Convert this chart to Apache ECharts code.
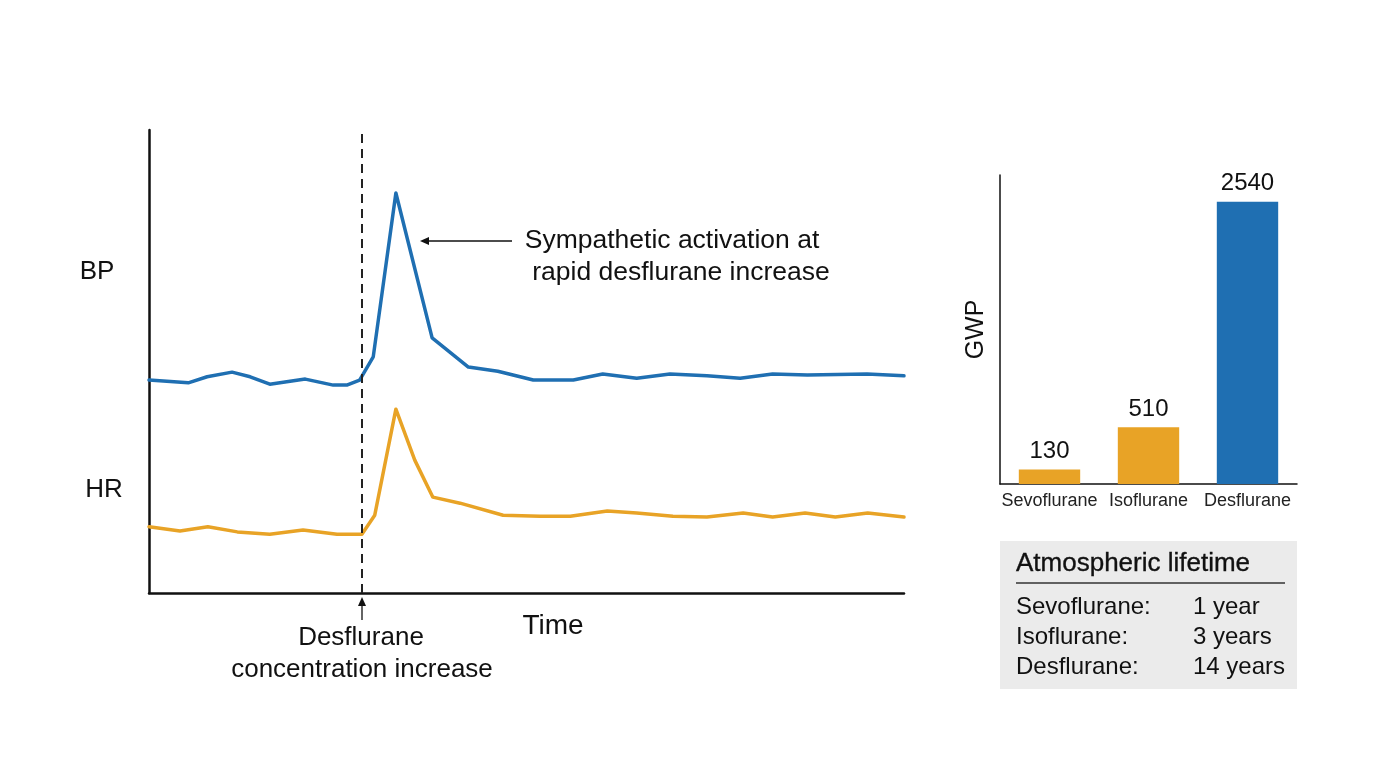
<!DOCTYPE html>
<html>
<head>
<meta charset="utf-8">
<script src="https://cdn.jsdelivr.net/npm/echarts@6/dist/echarts.min.js"></script>
<style>
  html, body { margin: 0; padding: 0; background: #fff; }
  #main { width: 1376px; height: 768px; }
</style>
</head>
<body>
<div id="main"></div>
<script>
// time axis is arbitrary units 0..100, signal level arbitrary 0..100
var bpTime = [0, 5.2, 7.7, 11, 13.4, 16, 20.7, 24.4, 26.2, 27.9, 29.7, 32.7, 37.5, 42.3, 46.2, 50.9, 56.2, 60.1, 64.6, 69, 73.9, 78.3, 82.6, 87.2, 95.1, 100];
var bpValues = [46, 45.4, 46.7, 47.7, 46.7, 45.1, 46.2, 44.9, 44.9, 46, 51, 86.4, 55.1, 48.8, 47.9, 46, 46, 47.3, 46.4, 47.3, 46.9, 46.4, 47.3, 47.1, 47.3, 46.9];
var hrTime = [0, 4.1, 7.8, 11.7, 16, 20.4, 24.9, 28.2, 29.9, 32.7, 35.2, 37.6, 41.2, 46.9, 51.8, 55.8, 60.7, 64.6, 69.4, 73.9, 78.7, 82.6, 86.9, 90.9, 95.2, 100];
var hrValues = [14.3, 13.4, 14.3, 13.2, 12.7, 13.6, 12.7, 12.7, 16.8, 39.7, 28.7, 20.7, 19.4, 16.8, 16.6, 16.6, 17.7, 17.3, 16.6, 16.4, 17.3, 16.4, 17.3, 16.4, 17.3, 16.4];
var desIncreaseTime = 28.2;

var agents = ['Sevoflurane', 'Isoflurane', 'Desflurane'];
var gwpValues = [130, 510, 2540];
var lifetimes = ['1 year', '3 years', '14 years'];

var BLUE = '#1f6fb2';
var ORANGE = '#e8a326';
var FONT = '"Liberation Sans", Arial, sans-serif';

function pairs(xs, ys) {
  var out = [];
  for (var i = 0; i < xs.length; i++) out.push([xs[i], ys[i]]);
  return out;
}

var myChart = echarts.init(document.getElementById('main'));

// lifetime table built from the arrays
var tableChildren = [
  { type: 'rect', shape: { x: 0, y: 0, width: 297, height: 148 }, style: { fill: '#ebebeb' } },
  { type: 'text', style: { x: 16, y: 23, text: 'Atmospheric lifetime', font: '26px ' + FONT, fill: '#111', stroke: '#111', lineWidth: 0.35, textVerticalAlign: 'middle' } },
  { type: 'line', shape: { x1: 16, y1: 42, x2: 285, y2: 42 }, style: { stroke: '#333', lineWidth: 1.5 } }
];
for (var i = 0; i < agents.length; i++) {
  tableChildren.push({ type: 'text', style: { x: 16, y: 66 + i * 30, text: agents[i] + ':', font: '24px ' + FONT, fill: '#111', textVerticalAlign: 'middle' } });
  tableChildren.push({ type: 'text', style: { x: 193, y: 66 + i * 30, text: lifetimes[i], font: '24px ' + FONT, fill: '#111', textVerticalAlign: 'middle' } });
}

var option = {
  animation: false,
  textStyle: { fontFamily: FONT },
  grid: [
    { left: 149, right: 472, top: 130, bottom: 175 },
    { left: 1000, right: 79, top: 175, bottom: 284 }
  ],
  xAxis: [{
    gridIndex: 0, type: 'value', min: 0, max: 100,
    axisLine: { show: true, onZero: false, lineStyle: { color: '#111', width: 2.5 } },
    axisTick: { show: false }, axisLabel: { show: false }, splitLine: { show: false }
  }, {
    gridIndex: 1, type: 'category', data: agents,
    axisLine: { lineStyle: { color: '#111', width: 1.5 } },
    axisTick: { show: false },
    axisLabel: { color: '#222', fontSize: 18, margin: 8, interval: 0 }
  }],
  yAxis: [{
    gridIndex: 0, type: 'value', min: 0, max: 100,
    axisLine: { show: true, onZero: false, lineStyle: { color: '#111', width: 2.5 } },
    axisTick: { show: false }, axisLabel: { show: false }, splitLine: { show: false }
  }, {
    gridIndex: 1, type: 'value', min: 0, max: 2780,
    name: 'GWP', nameLocation: 'middle', nameGap: 11, nameRotate: 90,
    nameTextStyle: { fontSize: 25, color: '#111' },
    axisLine: { show: true, lineStyle: { color: '#111', width: 1.5 } },
    axisTick: { show: false }, axisLabel: { show: false }, splitLine: { show: false }
  }],
  series: [{
    name: 'BP', type: 'line', xAxisIndex: 0, yAxisIndex: 0,
    data: pairs(bpTime, bpValues), symbol: 'none',
    lineStyle: { color: BLUE, width: 3.5, cap: 'round', join: 'round' },
    markLine: {
      silent: true, symbol: 'none', label: { show: false },
      lineStyle: { color: '#222', type: [9, 6], width: 2 },
      data: [{ xAxis: desIncreaseTime }]
    }
  }, {
    name: 'HR', type: 'line', xAxisIndex: 0, yAxisIndex: 0,
    data: pairs(hrTime, hrValues), symbol: 'none',
    lineStyle: { color: ORANGE, width: 3.5, cap: 'round', join: 'round' }
  }, {
    name: 'GWP', type: 'bar', xAxisIndex: 1, yAxisIndex: 1,
    barWidth: '62%',
    data: gwpValues.map(function (v, i) {
      return { value: v, itemStyle: { color: i === 2 ? BLUE : ORANGE } };
    }),
    label: { show: true, position: 'top', distance: 6, fontSize: 24, color: '#111' }
  }],
  graphic: [
    { type: 'text', style: { x: 97, y: 272, text: 'BP', font: '26px ' + FONT, fill: '#111', textAlign: 'center', textVerticalAlign: 'middle' } },
    { type: 'text', style: { x: 104, y: 490, text: 'HR', font: '26px ' + FONT, fill: '#111', textAlign: 'center', textVerticalAlign: 'middle' } },
    { type: 'text', style: { x: 553, y: 626, text: 'Time', font: '28px ' + FONT, fill: '#111', textAlign: 'center', textVerticalAlign: 'middle' } },
    { type: 'text', style: { x: 361, y: 638, text: 'Desflurane', font: '26px ' + FONT, fill: '#111', textAlign: 'center', textVerticalAlign: 'middle' } },
    { type: 'text', style: { x: 362, y: 670, text: 'concentration increase', font: '26px ' + FONT, fill: '#111', textAlign: 'center', textVerticalAlign: 'middle' } },
    { type: 'line', shape: { x1: 362, y1: 620, x2: 362, y2: 602 }, style: { stroke: '#111', lineWidth: 1.3 } },
    { type: 'polygon', shape: { points: [[362, 597], [358, 606], [366, 606]] }, style: { fill: '#111' } },
    { type: 'text', style: { x: 672, y: 241, text: 'Sympathetic activation at', font: '26.5px ' + FONT, fill: '#111', textAlign: 'center', textVerticalAlign: 'middle' } },
    { type: 'text', style: { x: 681, y: 273, text: 'rapid desflurane increase', font: '26.5px ' + FONT, fill: '#111', textAlign: 'center', textVerticalAlign: 'middle' } },
    { type: 'line', shape: { x1: 512, y1: 241, x2: 426, y2: 241 }, style: { stroke: '#111', lineWidth: 1.3 } },
    { type: 'polygon', shape: { points: [[420, 241], [429, 237], [429, 245]] }, style: { fill: '#111' } },
    { type: 'group', x: 1000, y: 541, children: tableChildren }
  ]
};

myChart.setOption(option);
</script>
</body>
</html>
